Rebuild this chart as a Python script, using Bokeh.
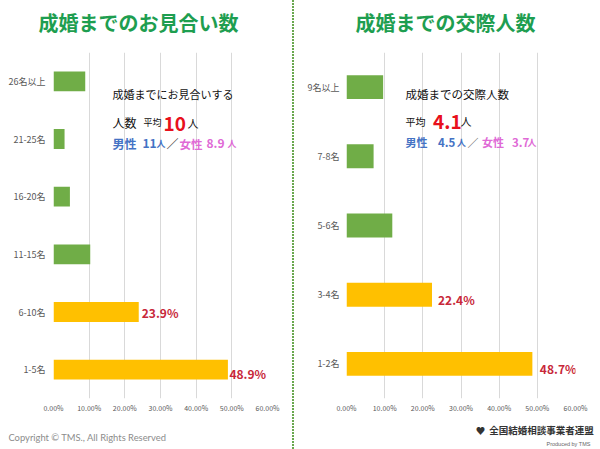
from bokeh.plotting import figure
from bokeh.models import (Range1d, FixedTicker, PrintfTickFormatter, Label, ColumnDataSource,
                          LinearAxis, Div)
from bokeh.layouts import row
from bokeh.embed import file_html
from bokeh.resources import INLINE
from bokeh.core.properties import value

# ---------------- data ----------------
left_title = "成婚までのお見合い数"
left_categories = ["1-5名", "6-10名", "11-15名", "16-20名", "21-25名", "26名以上"]
left_values = [48.9, 23.9, 10.3, 4.6, 3.1, 8.9]

right_title = "成婚までの交際人数"
right_categories = ["1-2名", "3-4名", "5-6名", "7-8名", "9名以上"]
right_values = [48.7, 22.4, 12.0, 7.1, 9.6]

x_ticks = [0, 10, 20, 30, 40, 50, 60]
highlight_count = 2  # the two largest groups are drawn in yellow and labelled

left_avg = "10"
left_male = "11"
left_female = "8.9"
right_avg = "4.1"
right_male = "4.5"
right_female = "3.7"

copyright_text = "Copyright © TMS., All Rights Reserved"
logo_text = "全国結婚相談事業者連盟"
produced_text = "Produced by TMS"

# ---------------- styles ----------------
JP = "Noto Sans CJK JP"
GREEN = "#70ad47"
YELLOW = "#ffc000"
RED_DARK = "#c8283a"
RED = "#e8101c"
BLUE = "#4472c4"
PINK = "#e06ad6"
TITLE_GREEN = "#1e9e50"
GRAY = "#595959"
H = 449
FT, FB = 52, 399  # frame top / bottom in page pixels


def make_chart(cats, vals, x0, width, frame_l, frame_r, label_offsets, cat_standoff):
    n = len(cats)
    p = figure(width=width, height=H, output_backend="svg", toolbar_location=None,
               x_range=Range1d(0, 60), y_range=Range1d(-0.5, n - 0.5),
               min_border_left=frame_l - x0, min_border_right=x0 + width - frame_r,
               min_border_top=FT, min_border_bottom=H - FB)
    # page-pixel helper ranges for placing annotation texts
    p.extra_x_ranges = {"px": Range1d(frame_l, frame_r)}
    p.extra_y_ranges = {"py": Range1d(FB, FT)}
    p.outline_line_color = None
    p.background_fill_color = "white"
    p.border_fill_color = "white"
    idx = list(range(n))
    colors = [YELLOW if i < highlight_count else GREEN for i in idx]
    src = ColumnDataSource(dict(y=idx, v=vals, c=colors))
    p.hbar(y="y", left=0, right="v", height=0.345, fill_color="c", line_color=None, source=src)

    p.xaxis.ticker = FixedTicker(ticks=x_ticks)
    p.xaxis.formatter = PrintfTickFormatter(format="%.2f%%")
    p.xaxis.major_label_text_font = JP
    p.xaxis.major_label_text_font_size = "7px"
    p.xaxis.major_label_text_color = GRAY
    p.xaxis.major_label_standoff = 4
    p.yaxis.ticker = FixedTicker(ticks=idx)
    p.yaxis.major_label_overrides = {i: c for i, c in enumerate(cats)}
    p.yaxis.major_label_text_font = JP
    p.yaxis.major_label_text_font_size = "9px"
    p.yaxis.major_label_text_color = GRAY
    p.yaxis.major_label_standoff = cat_standoff
    for ax in (p.xaxis, p.yaxis):
        ax.axis_line_color = None
        ax.major_tick_line_color = None
        ax.minor_tick_line_color = None
        ax.major_tick_out = 0
        ax.major_tick_in = 0
        ax.minor_tick_out = 0
        ax.minor_tick_in = 0
    p.xgrid.grid_line_color = "#d9d9d9"
    p.ygrid.grid_line_color = None

    lab_idx = idx[:highlight_count]
    lsrc = ColumnDataSource(dict(
        x=[vals[i] for i in lab_idx], y=lab_idx,
        t=[f"{vals[i]:.1f}%" for i in lab_idx],
        xo=[label_offsets[i][0] for i in lab_idx],
        yo=[label_offsets[i][1] for i in lab_idx]))
    p.text(x="x", y="y", text="t", x_offset="xo", y_offset="yo", source=lsrc,
           text_font=value(JP), text_font_size="12px", text_font_style="bold",
           text_color=RED_DARK, text_align="left", text_baseline="middle")
    return p


def text_axis(p, place, ticks_labels, size, color, standoff, bold=False, font=JP):
    ax = LinearAxis(x_range_name="px", ticker=FixedTicker(ticks=list(ticks_labels.keys())),
                    major_label_overrides=dict(ticks_labels))
    ax.axis_line_color = None
    ax.major_tick_line_color = None
    ax.minor_tick_line_color = None
    ax.major_tick_out = 0
    ax.major_tick_in = 0
    ax.minor_tick_out = 0
    ax.minor_tick_in = 0
    ax.major_label_standoff = standoff
    ax.major_label_text_font = font
    ax.major_label_text_font_size = f"{size}px"
    ax.major_label_text_color = color
    ax.major_label_text_font_style = "bold" if bold else "normal"
    p.add_layout(ax, place)


def lab(p, x, y, text, size, color, bold=False, align="left", baseline="alphabetic", font=JP):
    p.add_layout(Label(x=x, y=y, x_range_name="px", y_range_name="py", text=text,
                       text_font=font, text_font_size=f"{size}px", text_color=color,
                       text_font_style="bold" if bold else "normal",
                       text_align=align, text_baseline=baseline))


left = make_chart(left_categories, left_values, 0, 292, 53, 267, [(1.5, 3.5), (3, 0)], 8)
right = make_chart(right_categories, right_values, 294, 306, 346, 575, [(7.5, 5), (6, 5)], 7)

# titles (as label-only axes above the frames)
text_axis(left, "above", {138: left_title}, 20, TITLE_GREEN, 16, True)
text_axis(right, "above", {445: right_title}, 20, TITLE_GREEN, 16, True)

# footer texts (label-only axes below the x axes)
text_axis(left, "below", {87: copyright_text}, 9.4, "#8c8c8c", 16, False, "Lato")
text_axis(right, "below", {480: "♥", 541: logo_text}, 9.5, "#333333", 7, True)
text_axis(right, "below", {568: produced_text}, 5.5, "#666666", 1, False, "Liberation Sans")

# left info box
lab(left, 112, 93.3, "成婚までにお見合いする", 11, "#111111", baseline="middle")
lab(left, 112, 122.5, "人数", 12, "#111111")
lab(left, 143, 122.5, "平均", 9, "#111111")
lab(left, 163, 123.5, left_avg, 19, RED, True)
lab(left, 187, 122.5, "人", 11, "#111111")
lab(left, 112, 143.5, "男性", 12, BLUE, True)
lab(left, 142, 143.5, left_male, 12, BLUE, True)
lab(left, 156, 143.5, "人", 9, BLUE, True)
lab(left, 166, 143.5, "／", 12, "#404040")
lab(left, 179, 143.5, "女性", 11.5, PINK, True)
lab(left, 206, 143.5, left_female, 12, PINK, True)
lab(left, 227, 143.5, "人", 9, PINK, True)

# right info box
lab(right, 405, 93.3, "成婚までの交際人数", 11.5, "#111111", baseline="middle")
lab(right, 405, 121, "平均", 10, "#111111")
lab(right, 432.5, 121.7, right_avg, 19, RED, True)
lab(right, 460, 121, "人", 11, "#111111")
lab(right, 405, 142, "男性", 11, BLUE, True)
lab(right, 437.5, 142, right_male, 11.5, BLUE, True)
lab(right, 456.5, 142, "人", 9, BLUE, True)
lab(right, 467, 142, "／", 11, "#404040")
lab(right, 481.5, 142, "女性", 11, PINK, True)
lab(right, 511.5, 142, right_female, 11.5, PINK, True)
lab(right, 527, 142, "人", 9, PINK, True)

# dotted divider between the two charts
divider = Div(text="", width=2, height=H, margin=(0, 0, 0, 0), styles={
    "background-image": "linear-gradient(to bottom, #6aa84f 0px, #6aa84f 2px, rgba(255,255,255,0) 2px)",
    "background-size": "2px 3px",
    "background-repeat": "repeat-y",
    "padding": "0px",
    "margin": "0px",
})

layout = row(left, divider, right)
open("out.html", "w").write(file_html(layout, INLINE))
